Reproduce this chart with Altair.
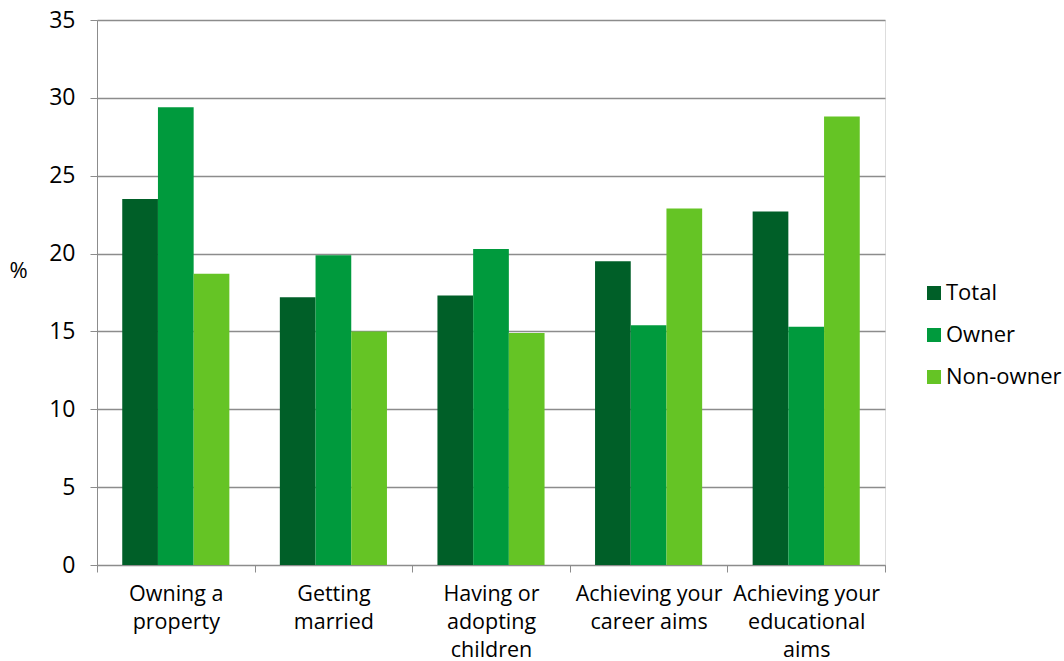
import altair as alt
import pandas as pd

categories = [
    "Owning a\nproperty",
    "Getting\nmarried",
    "Having or\nadopting\nchildren",
    "Achieving your\ncareer aims",
    "Achieving your\neducational\naims",
]
series = ["Total", "Owner", "Non-owner"]
total = [23.5, 17.2, 17.3, 19.5, 22.7]
owner = [29.4, 19.9, 20.3, 15.4, 15.3]
non_owner = [18.7, 15.0, 14.9, 22.9, 28.8]
colors = ["#005f28", "#009a3d", "#65c425"]
y_ticks = [0, 5, 10, 15, 20, 25, 30, 35]

rows = []
for i, c in enumerate(categories):
    for s, vals in zip(series, [total, owner, non_owner]):
        rows.append({"category": c, "series": s, "value": vals[i]})
df = pd.DataFrame(rows)

FONT = "Open Sans"
GRAY = "#8c8c8c"

chart = (
    alt.Chart(df)
    .mark_bar()
    .encode(
        x=alt.X(
            "category:N",
            sort=categories,
            scale=alt.Scale(paddingInner=0, paddingOuter=0),
            axis=alt.Axis(
                title=None,
                labelAngle=0,
                labelExpr="split(datum.label, '\\n')",
                tickBand="extent",
                labelFontSize=21.5,
                labelLineHeight=28,
                labelPadding=11,
                labelColor="#000000",
                labelFont=FONT,
                tickSize=7,
                tickColor=GRAY,
                domainColor=GRAY,
                labelBaseline="top",
                grid=False,
            ),
        ),
        xOffset=alt.XOffset(
            "series:N",
            sort=series,
            scale=alt.Scale(paddingInner=0, paddingOuter=0.707),
        ),
        y=alt.Y(
            "value:Q",
            scale=alt.Scale(domain=[0, 35], nice=False),
            axis=alt.Axis(
                values=y_ticks,
                title="%",
                titleAngle=0,
                titleX=-79,
                titleY=250,
                titleAlign="center",
                titleBaseline="middle",
                titleFontSize=22,
                titleFontWeight="normal",
                titleFont=FONT,
                titleColor="#000000",
                labelFontSize=23,
                labelFont=FONT,
                labelColor="#000000",
                labelPadding=15,
                tickSize=7,
                tickColor=GRAY,
                domainColor=GRAY,
                gridColor=GRAY,
                gridWidth=1.5,
            ),
        ),
        color=alt.Color(
            "series:N",
            sort=series,
            scale=alt.Scale(domain=series, range=colors),
            legend=alt.Legend(
                title=None,
                orient="none",
                legendX=826,
                legendY=262,
                symbolType="square",
                symbolSize=196,
                symbolStrokeWidth=0,
                labelFontSize=22,
                labelFont=FONT,
                labelColor="#000000",
                labelOffset=1,
                rowPadding=20,
            ),
        ),
    )
    .properties(
        width=788,
        height=545,
        autosize=alt.AutoSizeParams(type="none"),
        padding={"left": 97, "top": 20, "right": 179, "bottom": 96},
    )
    .configure_view(stroke=None)
    .configure(background="#ffffff")
)

chart.save("out.html", embed_options={"renderer": "svg", "actions": False})
